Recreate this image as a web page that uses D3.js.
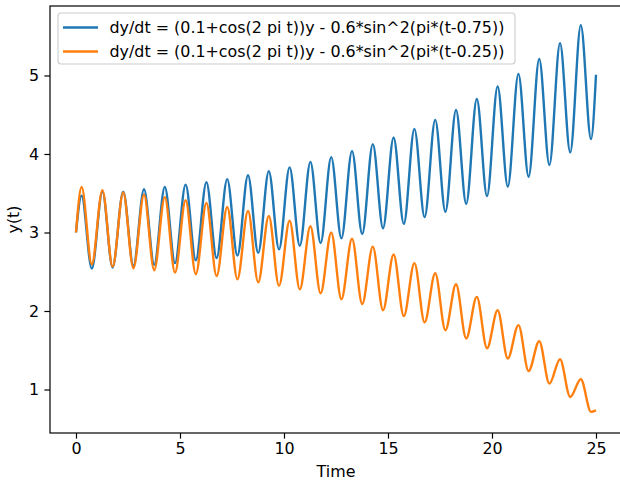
<!DOCTYPE html>
<html>
<head>
<meta charset="utf-8">
<script src="https://cdn.jsdelivr.net/npm/d3@7"></script>
<style>
  html, body { margin: 0; padding: 0; background: #ffffff; }
  svg { display: block; font-family: "DejaVu Sans", sans-serif; }
</style>
</head>
<body>
<div id="chart"></div>
<script>
// Time samples (start, then peak / trough of each cycle, then end)
const time = [0,
  0.27, 0.76, 1.27, 1.76, 2.27, 2.76, 3.27, 3.76, 4.27, 4.76,
  5.27, 5.76, 6.27, 6.76, 7.27, 7.76, 8.27, 8.76, 9.27, 9.76,
  10.27, 10.76, 11.27, 11.76, 12.27, 12.76, 13.27, 13.76, 14.27, 14.76,
  15.27, 15.76, 16.27, 16.76, 17.27, 17.76, 18.27, 18.76, 19.27, 19.76,
  20.27, 20.76, 21.27, 21.76, 22.27, 22.76, 23.27, 23.76, 24.27, 24.76,
  25];

const seriesNames = [
  "dy/dt = (0.1+cos(2 pi t))y - 0.6*sin^2(pi*(t-0.75))",
  "dy/dt = (0.1+cos(2 pi t))y - 0.6*sin^2(pi*(t-0.25))"
];

const yBlue = [3.00,
  3.47, 2.54, 3.52, 2.555, 3.52, 2.575, 3.55, 2.59, 3.58, 2.61,
  3.61, 2.645, 3.64, 2.675, 3.68, 2.705, 3.73, 2.74, 3.78, 2.785,
  3.83, 2.83, 3.90, 2.865, 3.96, 2.925, 4.04, 2.98, 4.125, 3.055,
  4.21, 3.11, 4.32, 3.195, 4.435, 3.265, 4.56, 3.365, 4.70, 3.465,
  4.86, 3.585, 5.02, 3.71, 5.21, 3.86, 5.41, 4.02, 5.64, 4.19,
  5.01];

const yOrange = [3.00,
  3.58, 2.595, 3.54, 2.565, 3.51, 2.545, 3.48, 2.52, 3.45, 2.49,
  3.41, 2.47, 3.375, 2.445, 3.325, 2.405, 3.275, 2.365, 3.21, 2.32,
  3.15, 2.275, 3.08, 2.225, 3.00, 2.15, 2.92, 2.09, 2.82, 2.01,
  2.72, 1.935, 2.61, 1.855, 2.48, 1.755, 2.34, 1.65, 2.18, 1.525,
  2.01, 1.395, 1.82, 1.235, 1.615, 1.075, 1.385, 0.905, 1.13, 0.715,
  0.735];

const xTicks = [0, 5, 10, 15, 20, 25];
const yTicks = [1, 2, 3, 4, 5];
const colors = ["#1f77b4", "#ff7f0e"];

(function () {
const W = 620, H = 481;
const pLeft = 50, pRight = 622, pTop = 6, pBottom = 433;
const FS = "15.9px";

const svg = d3.select("#chart").append("svg")
  .attr("width", W).attr("height", H);

const x = d3.scaleLinear().domain([-1.25, 26.25]).range([pLeft, pRight]);
const y = d3.scaleLinear().domain([0.446, 5.885]).range([pBottom, pTop]);

svg.append("clipPath").attr("id", "plotclip")
  .append("rect").attr("x", pLeft).attr("y", pTop)
  .attr("width", pRight - pLeft).attr("height", pBottom - pTop);

const line = d3.line()
  .x(d => x(d[0])).y(d => y(d[1]))
  .curve(d3.curveMonotoneX);

[yBlue, yOrange].forEach((vals, i) => {
  svg.append("path")
    .datum(time.map((t, j) => [t, vals[j]]))
    .attr("clip-path", "url(#plotclip)")
    .attr("fill", "none")
    .attr("stroke", colors[i])
    .attr("stroke-width", 2.4)
    .attr("stroke-linejoin", "round")
    .attr("stroke-linecap", "butt")
    .attr("d", line);
});

// Frame (spines)
svg.append("rect")
  .attr("x", pLeft).attr("y", pTop)
  .attr("width", pRight - pLeft).attr("height", pBottom - pTop)
  .attr("fill", "none").attr("stroke", "#000").attr("stroke-width", 1.2);

// Axes
const xAxis = svg.append("g").attr("transform", `translate(0,${pBottom})`)
  .call(d3.axisBottom(x).tickValues(xTicks).tickFormat(d3.format("d"))
    .tickSize(5.6).tickPadding(4).tickSizeOuter(0));
const yAxis = svg.append("g").attr("transform", `translate(${pLeft},0)`)
  .call(d3.axisLeft(y).tickValues(yTicks).tickFormat(d3.format("d"))
    .tickSize(5.6).tickPadding(5.4).tickSizeOuter(0));

[xAxis, yAxis].forEach(g => {
  g.select(".domain").remove();
  g.selectAll(".tick line").attr("stroke", "#000").attr("stroke-width", 1.2);
  g.selectAll(".tick text").attr("fill", "#000")
    .style("font-family", "DejaVu Sans, sans-serif").style("font-size", FS);
});

// Axis labels
svg.append("text")
  .attr("x", (pLeft + 622) / 2).attr("y", 477)
  .attr("text-anchor", "middle")
  .style("font-size", FS).attr("fill", "#000")
  .text("Time");
svg.append("text")
  .attr("transform", `translate(19,${(pTop + pBottom) / 2}) rotate(-90)`)
  .attr("text-anchor", "middle")
  .style("font-size", FS).attr("fill", "#000")
  .text("y(t)");

// Legend
const lg = svg.append("g");
lg.append("rect")
  .attr("x", 58).attr("y", 13).attr("width", 457).attr("height", 51)
  .attr("rx", 3).attr("ry", 3)
  .attr("fill", "#ffffff").attr("fill-opacity", 0.8)
  .attr("stroke", "#cccccc").attr("stroke-width", 1.1);
seriesNames.forEach((name, i) => {
  const cy = 27.5 + i * 24;
  lg.append("line")
    .attr("x1", 63).attr("x2", 98).attr("y1", cy).attr("y2", cy)
    .attr("stroke", colors[i]).attr("stroke-width", 2.4);
  lg.append("text")
    .attr("x", 109.5).attr("y", cy + 5.5)
    .style("font-size", FS).attr("fill", "#000")
    .text(name);
});
})();
</script>
</body>
</html>
